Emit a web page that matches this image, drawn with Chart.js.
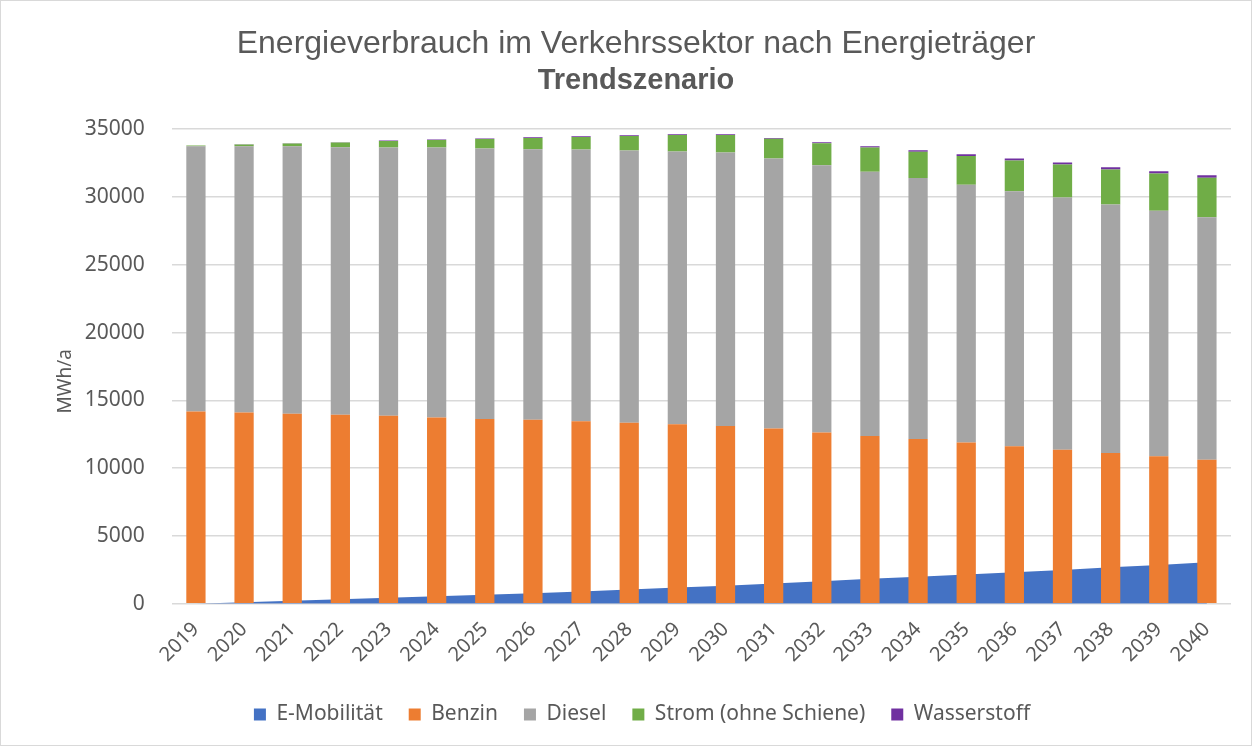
<!DOCTYPE html>
<html><head><meta charset="utf-8">
<script src="https://cdn.jsdelivr.net/npm/chart.js@4"></script>
<style>
html,body{margin:0;padding:0;background:#fff;}
#wrap{position:absolute;left:0;top:0;width:1252px;height:746px;border:1px solid #d9d9d9;box-sizing:border-box;background:#fff;}
canvas{display:block}
</style></head><body>
<div id="wrap"><canvas id="c" width="1250" height="744"></canvas></div>
<script>
const years = ['2019','2020','2021','2022','2023','2024','2025','2026','2027','2028','2029','2030','2031','2032','2033','2034','2035','2036','2037','2038','2039','2040'];
const eMobilitaet = [0,110,220,320,430,540,650,770,900,1040,1190,1330,1490,1660,1830,1990,2150,2320,2490,2680,2860,3060];
const benzin = [14180,14110,14010,13930,13860,13740,13630,13560,13460,13340,13240,13110,12920,12620,12370,12150,11880,11610,11360,11110,10870,10620];
const diesel = [19560,19630,19740,19740,19790,19910,19940,19960,20040,20090,20110,20170,19920,19720,19500,19250,19030,18810,18600,18330,18110,17880];
const strom = [50,130,200,345,485,555,700,840,930,1075,1220,1290,1450,1620,1780,1935,2110,2275,2435,2595,2755,2910];
const wasserstoff = [5,15,20,25,30,35,40,45,50,55,60,60,70,80,90,110,130,140,150,160,170,190];
const yTicks = [0,5000,10000,15000,20000,25000,30000,35000];

const txt = '#595959';
const sans = '"Noto Sans", sans-serif';

const bar = (label, data, color) => ({
  type:'bar', label, data, backgroundColor:color, borderWidth:0,
  stack:'s', order:1, categoryPercentage:1.0, barPercentage:0.4
});

// nudge the legend row slightly to the right, as in the original
const legendShift = {id:'legendShift', afterLayout(chart){
  const l = chart.legend; if (l) { l.left += 6; l.right += 6; }
}};

new Chart(document.getElementById('c'), {
  data: {
    labels: years,
    datasets: [
      {type:'line', label:'E-Mobilität', data:eMobilitaet, backgroundColor:'#4472C4', borderColor:'#4472C4',
       borderWidth:0, pointRadius:0, fill:'origin', tension:0, order:10, stack:'line'},
      bar('Benzin', benzin, '#ED7D31'),
      bar('Diesel', diesel, '#A5A5A5'),
      bar('Strom (ohne Schiene)', strom, '#70AD47'),
      bar('Wasserstoff', wasserstoff, '#7030A0')
    ]
  },
  plugins:[legendShift],
  options: {
    responsive:false,
    animation:false,
    layout:{padding:{left:40, right:20, top:0, bottom:10}},
    plugins:{
      tooltip:{enabled:false},
      title:{display:true, text:'Energieverbrauch im Verkehrssektor nach Energieträger', color:txt,
        font:{family:'"Liberation Sans", Arial, sans-serif', size:32, weight:'normal', lineHeight:1.2}, padding:{top:24,bottom:0}},
      subtitle:{display:true, text:'Trendszenario', color:txt,
        font:{family:'"Liberation Sans", Arial, sans-serif', size:29, weight:'bold', lineHeight:1.2}, padding:{top:0,bottom:31}},
      legend:{position:'bottom',
        labels:{color:txt, font:{family:sans, size:21}, boxWidth:12, boxHeight:12, padding:26,
          sort:(a,b)=>a.datasetIndex-b.datasetIndex}}
    },
    scales:{
      x:{stacked:true, offset:true, grid:{display:false}, border:{display:false},
        ticks:{color:txt, font:{family:sans, size:20}, minRotation:45, maxRotation:45, padding:6},
        afterFit:(s)=>{s.height += 5;}},
      y:{stacked:true, min:0, max:35000,
        afterBuildTicks:(s)=>{s.ticks = yTicks.map(v=>({value:v}));},
        afterFit:(s)=>{s.width -= 31;},
        grid:{color:'#d9d9d9', lineWidth:1.5, drawTicks:false}, border:{display:false},
        ticks:{color:txt, font:{family:sans, size:21}, padding:27, callback:(v)=>String(v)},
        title:{display:true, text:'MWh/a      ', color:txt, font:{family:sans, size:19}, padding:{top:13,bottom:12}}}
    }
  }
});
</script>
</body></html>
